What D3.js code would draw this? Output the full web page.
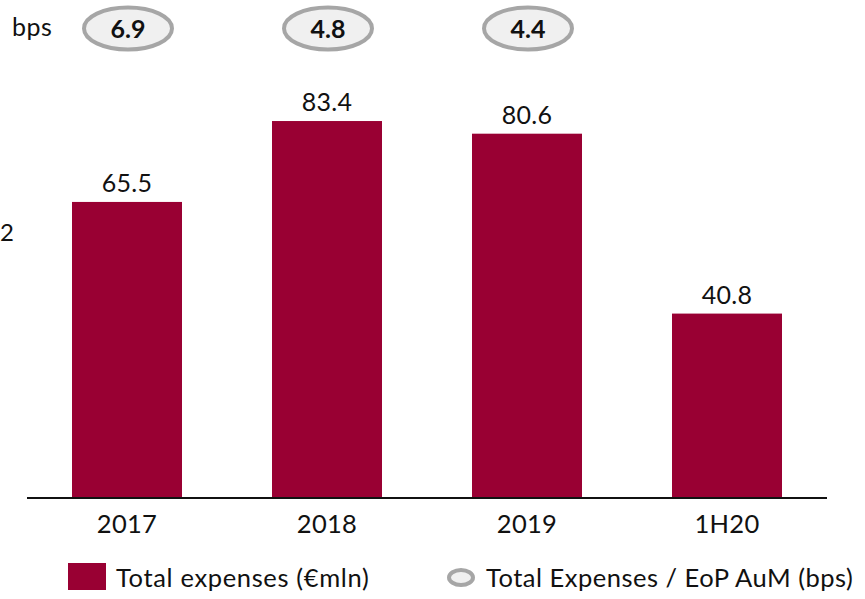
<!DOCTYPE html>
<html>
<head>
<meta charset="utf-8">
<script src="https://cdn.jsdelivr.net/npm/d3@7"></script>
<style>
  html, body { margin: 0; padding: 0; background: #fff; }
  svg { display: block; font-family: Lato, "Open Sans", sans-serif; }
</style>
</head>
<body>
<svg id="chart" width="865" height="599"></svg>
<script>
// Total expenses per period (€ mln)
const categories = ["2017", "2018", "2019", "1H20"];
const expenses = [65.5, 83.4, 80.6, 40.8];
// Total expenses over end-of-period AuM (bps)
const bpsPeriods = ["2017", "2018", "2019"];
const bpsValues = [6.9, 4.8, 4.4];
const legendLabels = ["Total expenses (€mln)", "Total Expenses / EoP AuM (bps)"];

const barColor = "#990033";
const ovalFill = "#f0f0f0";
const ovalStroke = "#a6a6a6";
const textColor = "#111";

const svg = d3.select("#chart");

const x = d3.scaleBand()
  .domain(categories)
  .range([27, 827])
  .paddingInner(0.45)
  .paddingOuter(0.225);

const baseline = 498;
const y = d3.scaleLinear()
  .domain([0, 100])
  .range([baseline, baseline - 452]);

// Bars
svg.append("g")
  .selectAll("rect")
  .data(categories)
  .join("rect")
  .attr("x", d => x(d))
  .attr("width", x.bandwidth())
  .attr("y", (d, i) => y(expenses[i]))
  .attr("height", (d, i) => y(0) - y(expenses[i]))
  .attr("fill", barColor);

// Value labels
svg.append("g")
  .selectAll("text")
  .data(categories)
  .join("text")
  .attr("x", d => x(d) + x.bandwidth() / 2)
  .attr("y", (d, i) => y(expenses[i]) - 10)
  .attr("text-anchor", "middle")
  .attr("font-size", 25)
  .attr("letter-spacing", 0.3)
  .attr("fill", textColor)
  .text((d, i) => expenses[i].toFixed(1));

// Category axis
const xAxis = svg.append("g")
  .attr("transform", `translate(0,${baseline})`)
  .call(d3.axisBottom(x).tickSize(0));
xAxis.select(".domain").attr("stroke", textColor).attr("stroke-width", 2)
  .attr("d", "M27,0H827");
xAxis.selectAll(".tick text")
  .attr("y", 35)
  .attr("dy", null)
  .attr("font-family", "Lato, 'Open Sans', sans-serif")
  .attr("font-size", 25.5)
  .attr("letter-spacing", 0.3)
  .attr("fill", textColor);

// Left-edge label
svg.append("text")
  .attr("x", 0)
  .attr("y", 241)
  .attr("font-size", 24)
  .attr("fill", textColor)
  .text("2");

// bps ovals
svg.append("text")
  .attr("x", 12)
  .attr("y", 36)
  .attr("font-size", 25)
  .attr("letter-spacing", 0.5)
  .attr("fill", textColor)
  .text("bps");

const ovals = svg.append("g")
  .selectAll("g")
  .data(bpsPeriods)
  .join("g")
  .attr("transform", d => `translate(${x(d) + x.bandwidth() / 2 + 1},28.5)`);
ovals.append("ellipse")
  .attr("rx", 44)
  .attr("ry", 21)
  .attr("fill", ovalFill)
  .attr("stroke", ovalStroke)
  .attr("stroke-width", 4);
ovals.append("text")
  .attr("y", 9)
  .attr("text-anchor", "middle")
  .attr("font-size", 25)
  .attr("font-weight", "bold")
  .attr("fill", textColor)
  .text((d, i) => bpsValues[i].toFixed(1));

// Legend
const legend = svg.append("g");
legend.append("rect")
  .attr("x", 68).attr("y", 563)
  .attr("width", 38).attr("height", 27)
  .attr("fill", barColor);
legend.append("text")
  .attr("x", 116).attr("y", 587)
  .attr("font-size", 25.5)
  .attr("letter-spacing", 0.65)
  .attr("fill", textColor)
  .text(legendLabels[0]);
legend.append("ellipse")
  .attr("cx", 461).attr("cy", 577.5)
  .attr("rx", 12).attr("ry", 7.5)
  .attr("fill", ovalFill)
  .attr("stroke", ovalStroke)
  .attr("stroke-width", 4);
legend.append("text")
  .attr("x", 486).attr("y", 587)
  .attr("font-size", 25.5)
  .attr("letter-spacing", 0.5)
  .attr("fill", textColor)
  .text(legendLabels[1]);
</script>
</body>
</html>
